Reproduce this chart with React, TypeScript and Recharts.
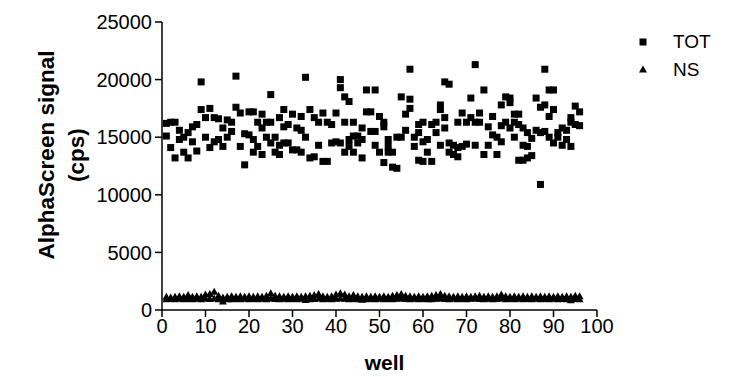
import React from 'react';
import { ScatterChart, Scatter, XAxis, YAxis } from 'recharts';

const wells = [
  1, 2, 3, 4, 5, 6, 7, 8, 9, 10, 11, 12, 13, 14, 15, 16, 17, 18, 19, 20,
  21, 22, 23, 24, 25, 26, 27, 28, 29, 30, 31, 32, 33, 34, 35, 36, 37, 38, 39, 40,
  41, 42, 43, 44, 45, 46, 47, 48, 49, 50, 51, 52, 53, 54, 55, 56, 57, 58, 59, 60,
  61, 62, 63, 64, 65, 66, 67, 68, 69, 70, 71, 72, 73, 74, 75, 76, 77, 78, 79, 80,
  81, 82, 83, 84, 85, 86, 87, 88, 89, 90, 91, 92, 93, 94, 95, 96,
];

const totRep1 = [
  16200, 16300, 16300, 15600, 15000, 15400, 15900, 16100, 19800, 16700,
  17500, 16700, 16600, 15800, 16500, 16300, 20300, 17100, 15300, 17200,
  17200, 16300, 17000, 16300, 18700, 15000, 16700, 17400, 16100, 17000,
  15800, 16800, 20200, 17400, 16700, 16300, 17100, 16300, 16100, 17100,
  20000, 18500, 18100, 16300, 15100, 15800, 19100, 17200, 19100, 16800,
  16300, 14800, 13700, 15000, 18500, 17000, 20900, 15000, 16100, 16300,
  14800, 16100, 16300, 17800, 19800, 19600, 14300, 16300, 17100, 16300,
  18400, 21300, 17100, 19100, 15900, 16800, 15000, 17800, 18500, 18400,
  17000, 17000, 15800, 15400, 14900, 18400, 17600, 20900, 19100, 19100,
  15400, 15800, 15600, 16700, 17700, 17200,
];

const totRep2 = [
  15100, 14100, 13200, 14800, 13700, 13200, 14600, 13800, 17400, 15000,
  14100, 14600, 14800, 14200, 15000, 15500, 17600, 14200, 12600, 15200,
  14800, 14200, 15800, 15000, 16300, 13700, 14300, 15900, 14500, 13900,
  13900, 15600, 15000, 13200, 13300, 14300, 12900, 12900, 14500, 14600,
  19300, 16300, 14800, 15100, 14500, 14800, 17200, 15500, 15500, 13700,
  15900, 14200, 12400, 12300, 15000, 15600, 18300, 14200, 15400, 14600,
  13700, 12900, 15400, 17400, 16700, 14500, 13500, 14100, 14200, 14400,
  16700, 16300, 16300, 13500, 14300, 15200, 13500, 16000, 16300, 18000,
  16300, 16100, 14300, 14200, 13400, 15600, 15400, 17800, 16800, 17400,
  15000, 14300, 14800, 16300, 16100, 16000,
];

const totRep3 = [
  null, null, null, null, null, null, null, null, null, null,
  null, null, null, null, null, null, null, null, null, null,
  13700, null, 13500, null, 14500, null, 13500, 14500, null, null,
  null, 13700, null, null, null, null, null, null, null, null,
  14500, 13700, 14200, 13700, null, 13200, null, null, 14300, null,
  12800, 13700, null, null, null, null, 17500, null, 13000, 12900,
  null, null, null, 14300, 15800, 13700, null, 13300, null, null,
  null, 14300, null, null, null, null, null, 14600, null, 15800,
  15000, 13000, 13000, 13200, null, null, 10900, 15500, 15000, 14500,
  null, null, null, 14200, null, null,
];

const nsRep1 = [
  1100, 1050, 1100, 1150, 1100, 1250, 1100, 1150, 1100, 1300,
  1350, 1550, 1200, 1050, 1100, 1150, 1100, 1150, 1100, 1150,
  1100, 1150, 1100, 1200, 1400, 1200, 1150, 1100, 1150, 1100,
  1150, 1100, 1150, 1200, 1250, 1350, 1150, 1100, 1150, 1300,
  1400, 1300, 1150, 1250, 1150, 1100, 1150, 1100, 1150, 1100,
  1150, 1100, 1200, 1250, 1350, 1200, 1150, 1100, 1150, 1100,
  1150, 1200, 1250, 1350, 1200, 1150, 1100, 1150, 1100, 1150,
  1100, 1150, 1200, 1100, 1150, 1100, 1150, 1300, 1150, 1100,
  1150, 1100, 1150, 1100, 1150, 1100, 1150, 1100, 1150, 1100,
  1150, 1100, 1150, 1100, 1200, 1150,
];

const nsRep2 = [
  900, 920, 900, 930, 900, 920, 900, 930, 900, 950,
  920, 950, 900, 700, 880, 900, 920, 900, 930, 900,
  920, 900, 930, 900, 950, 920, 900, 930, 900, 920,
  900, 930, 820, 900, 920, 950, 900, 920, 900, 930,
  950, 930, 900, 920, 900, 850, 900, 920, 900, 930,
  900, 920, 900, 930, 950, 920, 900, 930, 900, 920,
  880, 900, 930, 950, 920, 900, 930, 900, 920, 900,
  930, 950, 920, 900, 930, 900, 920, 950, 900, 920,
  900, 930, 900, 920, 900, 930, 900, 920, 900, 930,
  900, 920, 900, 800, 920, 900,
];

const xTicks = [0, 10, 20, 30, 40, 50, 60, 70, 80, 90, 100];
const yTicks = [0, 5000, 10000, 15000, 20000, 25000];
const seriesNames = ['TOT', 'NS'];

const totData: { x: number; y: number }[] = [];
[totRep1, totRep2, totRep3].forEach((rep) => {
  rep.forEach((v, i) => {
    if (v !== null) totData.push({ x: wells[i], y: v as number });
  });
});

const nsData: { x: number; y: number }[] = [];
[nsRep1, nsRep2].forEach((rep) => {
  rep.forEach((v, i) => {
    nsData.push({ x: wells[i], y: v });
  });
});

const FONT = '"Liberation Sans", Arial, Helvetica, sans-serif';

const SquareShape = (props: any) => {
  const { cx, cy } = props;
  if (cx == null || cy == null) return null;
  return <rect x={cx - 3.5} y={cy - 3.5} width={7} height={7} fill="#000" />;
};

const TriangleShape = (props: any) => {
  const { cx, cy } = props;
  if (cx == null || cy == null) return null;
  return <path d={`M${cx},${cy - 4.5} L${cx + 4},${cy + 2.5} L${cx - 4},${cy + 2.5} Z`} fill="#000" />;
};

const YLabel = (props: any) => {
  const vb = props.viewBox || { x: 0, y: 0, width: 0, height: 0 };
  const cy = vb.y + vb.height / 2 - 11;
  const x1 = vb.x + 38;
  const x2 = vb.x + 68;
  return (
    <g>
      <text
        x={x1}
        y={cy}
        transform={`rotate(-90, ${x1}, ${cy})`}
        textAnchor="middle"
        dominantBaseline="central"
        fontFamily={FONT}
        fontWeight="bold"
        fontSize={22.5}
        fill="#000"
      >
        AlphaScreen signal
      </text>
      <text
        x={x2}
        y={cy}
        transform={`rotate(-90, ${x2}, ${cy})`}
        textAnchor="middle"
        dominantBaseline="central"
        fontFamily={FONT}
        fontWeight="bold"
        fontSize={22.5}
        fill="#000"
      >
        (cps)
      </text>
    </g>
  );
};

const XLabel = (props: any) => {
  const vb = props.viewBox || { x: 0, y: 0, width: 0, height: 0 };
  return (
    <text
      x={vb.x + vb.width / 2 + 5}
      y={vb.y + 52}
      textAnchor="middle"
      dominantBaseline="central"
      fontFamily={FONT}
      fontWeight="bold"
      fontSize={21}
      fill="#000"
    >
      well
    </text>
  );
};

const LegendBox = () => (
  <div
    style={{
      position: 'absolute',
      left: 625,
      top: 20,
      fontFamily: FONT,
      fontSize: 19,
      color: '#000',
      lineHeight: '28px',
    }}
  >
    <div style={{ display: 'flex', alignItems: 'center', height: 28 }}>
      <svg width={40} height={20}>
        <rect x={6.5} y={6.5} width={7} height={7} fill="#000" />
      </svg>
      <span>{seriesNames[0]}</span>
    </div>
    <div style={{ display: 'flex', alignItems: 'center', height: 28 }}>
      <svg width={40} height={20}>
        <path d="M10,5.5 L14,12.5 L6,12.5 Z" fill="#000" />
      </svg>
      <span>{seriesNames[1]}</span>
    </div>
  </div>
);

export default function App() {
  return (
    <div style={{ position: 'relative', width: 721, height: 369 }}>
      <ScatterChart
        width={721}
        height={369}
        margin={{ top: 14, right: 132, bottom: 0, left: 0 }}
        style={{ fontFamily: FONT }}
      >
        <XAxis
          type="number"
          dataKey="x"
          domain={[0, 100]}
          ticks={xTicks}
          interval={0}
          height={67}
          tickSize={7}
          tickMargin={2}
          axisLine={{ stroke: '#000', strokeWidth: 1.5 }}
          tickLine={{ stroke: '#000', strokeWidth: 1.5 }}
          tick={{ fill: '#000', fontSize: 20, fontFamily: FONT }}
          label={{ content: XLabel }}
        />
        <YAxis
          type="number"
          dataKey="y"
          domain={[0, 25000]}
          ticks={yTicks}
          interval={0}
          width={154}
          tickSize={7}
          tickMargin={3}
          axisLine={{ stroke: '#000', strokeWidth: 1.5 }}
          tickLine={{ stroke: '#000', strokeWidth: 1.5 }}
          tick={{ fill: '#000', fontSize: 20, fontFamily: FONT }}
          label={{ content: YLabel }}
        />
        <Scatter name={seriesNames[0]} data={totData} shape={SquareShape} isAnimationActive={false} />
        <Scatter name={seriesNames[1]} data={nsData} shape={TriangleShape} isAnimationActive={false} />
      </ScatterChart>
      <LegendBox />
    </div>
  );
}
